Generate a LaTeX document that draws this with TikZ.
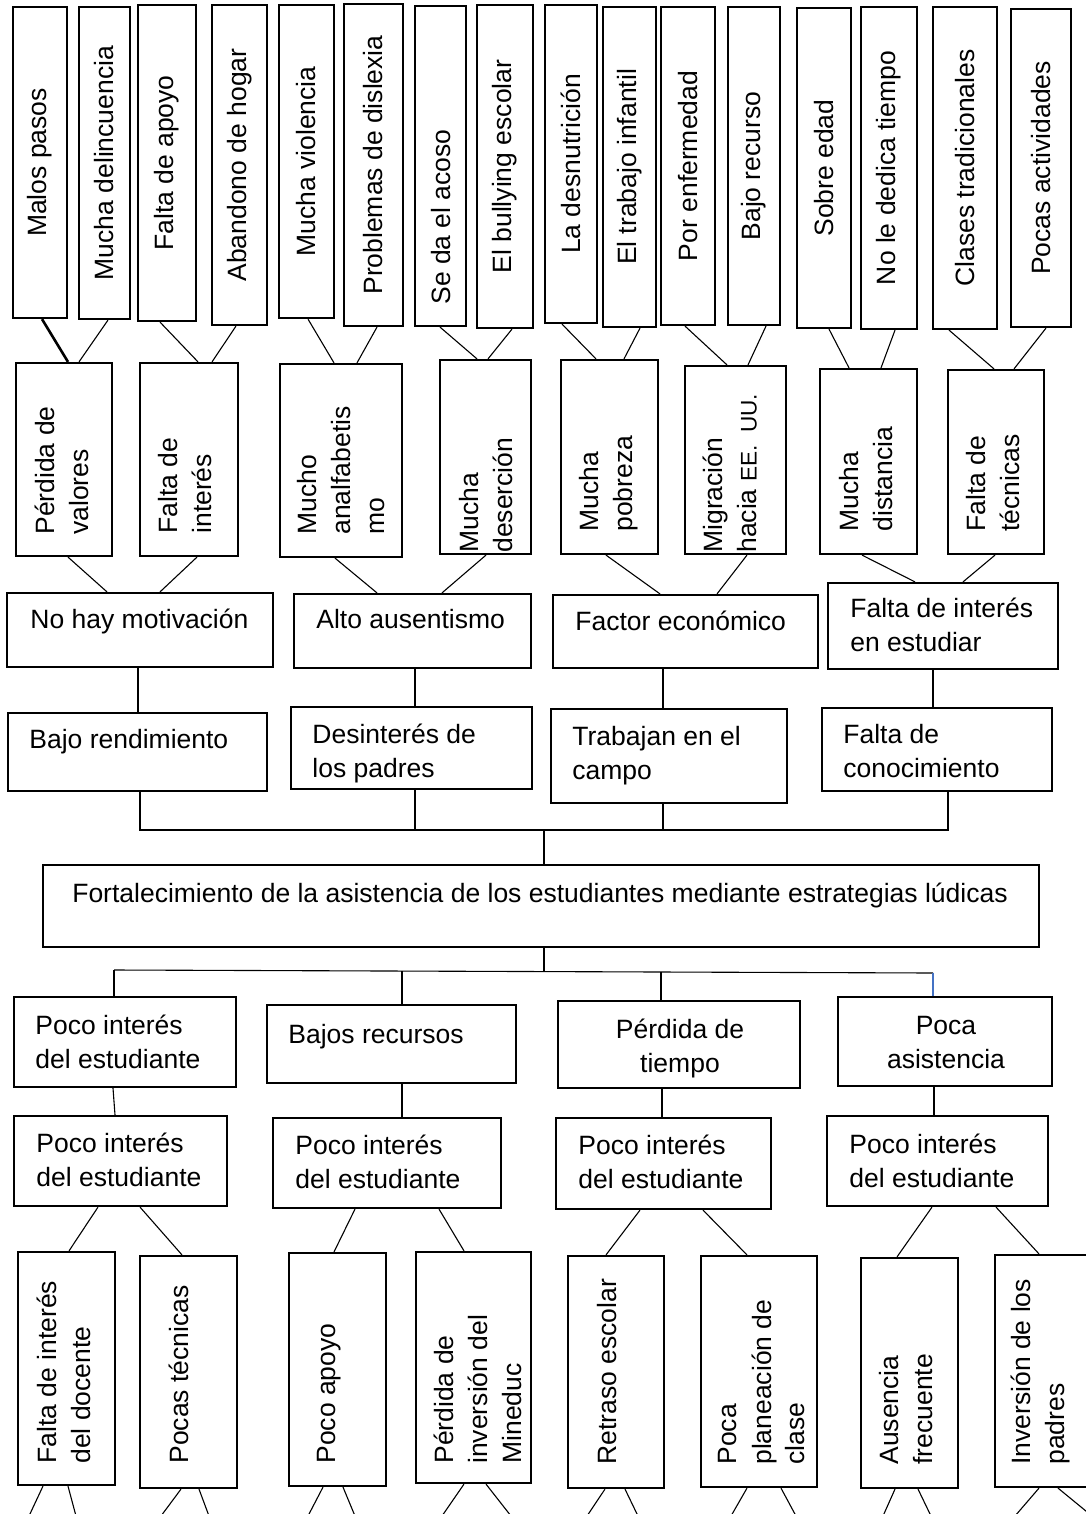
\documentclass[tikz,border=0pt]{standalone}
\usepackage{fontspec}
\setmainfont{Liberation Sans}
\usetikzlibrary{fit}
\definecolor{linkblue}{RGB}{68,114,196}
\begin{document}
\begin{tikzpicture}[x=0.5pt,y=-0.5pt,
  box/.style={draw, line width=1.1pt, inner sep=0pt, rectangle},
  con/.style={line width=0.55pt},
  rt/.style={rotate=90, inner sep=0pt, font=\fontsize{13.25}{17}\selectfont},
  rtl/.style={rt, align=left, anchor=west},
  ht/.style={inner sep=0pt, anchor=base west, font=\fontsize{13.25}{17}\selectfont},
  hc/.style={inner sep=0pt, anchor=base, align=center, font=\fontsize{13.25}{17}\selectfont}]
\useasboundingbox (0,0) rectangle (1086,1514);
\fill[white] (0,0) rectangle (1086,1514);
\clip (0,0) rectangle (1086,1514);

% ---------- top row ----------
\node[box, fit={(13,7) (67,318)}] (T1) {};
\node[rt] at (T1) {Malos pasos};
\node[box, fit={(79,7) (130,319)}] (T2) {};
\node[rt] at (T2) {Mucha delincuencia};
\node[box, fit={(138,5) (196,321)}] (T3) {};
\node[rt] at (T3) {Falta de apoyo};
\node[box, fit={(212,5) (267,325)}] (T4) {};
\node[rt] at (T4) {Abandono de hogar};
\node[box, fit={(279,5) (334,318)}] (T5) {};
\node[rt] at (T5) {Mucha violencia};
\node[box, fit={(344,4) (403,326)}] (T6) {};
\node[rt] at (T6) {Problemas de dislexia};
\node[box, fit={(415,6) (466,326)}] (T7) {};
\node[rt, anchor=west] at (441,305) {Se da el acoso};
\node[box, fit={(477,5) (533,328)}] (T8) {};
\node[rt] at (T8) {El bullying escolar};
\node[box, fit={(545,5) (597,323)}] (T9) {};
\node[rt] at (T9) {La desnutrición};
\node[box, fit={(603,7) (656,327)}] (T10) {};
\node[rt] at (T10) {El trabajo infantil};
\node[box, fit={(661,7) (715,325)}] (T11) {};
\node[rt] at (T11) {Por enfermedad};
\node[box, fit={(728,7) (780,325)}] (T12) {};
\node[rt] at (T12) {Bajo recurso};
\node[box, fit={(797,8) (851,328)}] (T13) {};
\node[rt] at (T13) {Sobre edad};
\node[box, fit={(861,7) (917,329)}] (T14) {};
\node[rt] at (T14) {No le dedica tiempo};
\node[box, fit={(933,7) (997,329)}] (T15) {};
\node[rt] at (T15) {Clases tradicionales};
\node[box, fit={(1011,9) (1071,327)}] (T16) {};
\node[rt] at (T16) {Pocas actividades};

% ---------- second row ----------
\node[box, fit={(16,363) (112,556)}] (S1) {};
\node[rtl] at (62,535) {Pérdida de\\valores};
\node[box, fit={(140,363) (238,556)}] (S2) {};
\node[rtl] at (185,534) {Falta de\\interés};
\node[box, fit={(280,364) (402,557)}] (S3) {};
\node[rtl] at (341,535) {Mucho\\analfabetis\\mo};
\node[box, fit={(440,360) (531,554)}] (S4) {};
\node[rtl] at (486,553) {Mucha\\deserción};
\node[box, fit={(561,360) (658,554)}] (S5) {};
\node[rtl] at (609,532) {Mucha\\pobreza};
\node[box, fit={(685,366) (786,554)}] (S6) {};
\node[rtl] at (730,553) {Migración\\hacia {\fontsize{11.3}{17}\selectfont EE.\ \ UU.}};
\node[box, fit={(820,369) (917,554)}] (S7) {};
\node[rtl] at (866,532) {Mucha\\distancia};
\node[box, fit={(948,370) (1044,554)}] (S8) {};
\node[rtl] at (993,532) {Falta de\\técnicas};

% ---------- third row ----------
\node[box, fit={(7,593) (273,667)}] (R1) {};
\node[ht] at (30,628) {No hay motivación};
\node[box, fit={(294,594) (531,668)}] (R2) {};
\node[ht] at (316,628) {Alto ausentismo};
\node[box, fit={(553,595) (818,668)}] (R3) {};
\node[ht] at (575,630) {Factor económico};
\node[box, fit={(828,583) (1058,669)}] (R4) {};
\node[ht, align=left] at (850,651) {Falta de interés\\en estudiar};

% ---------- fourth row ----------
\node[box, fit={(8,713) (267,791)}] (Q1) {};
\node[ht] at (29,748) {Bajo rendimiento};
\node[box, fit={(291,707) (532,789)}] (Q2) {};
\node[ht, align=left] at (312,777) {Desinterés de\\los padres};
\node[box, fit={(551,709) (787,803)}] (Q3) {};
\node[ht, align=left] at (572,779) {Trabajan en el\\campo};
\node[box, fit={(822,708) (1052,791)}] (Q4) {};
\node[ht, align=left] at (843,777) {Falta de\\conocimiento};

% ---------- main box ----------
\node[box, fit={(43,865) (1039,947)}] (M) {};
\node[hc] at (540,902) {Fortalecimiento de la asistencia de los estudiantes mediante estrategias lúdicas};

% ---------- effects ----------
\node[box, fit={(14,997) (236,1087)}] (P1) {};
\node[ht, align=left] at (35,1068) {Poco interés\\del estudiante};
\node[box, fit={(267,1005) (516,1083)}] (P2) {};
\node[ht] at (288,1043) {Bajos recursos};
\node[box, fit={(558,1001) (800,1088)}] (P3) {};
\node[hc] at (680,1072) {Pérdida de\\tiempo};
\node[box, fit={(838,997) (1052,1086)}] (P4) {};
\node[hc] at (946,1068) {Poca\\asistencia};

\node[box, fit={(14,1116) (227,1206)}] (U1) {};
\node[ht, align=left] at (36,1186) {Poco interés\\del estudiante};
\node[box, fit={(273,1118) (501,1208)}] (U2) {};
\node[ht, align=left] at (295,1188) {Poco interés\\del estudiante};
\node[box, fit={(556,1118) (771,1209)}] (U3) {};
\node[ht, align=left] at (578,1188) {Poco interés\\del estudiante};
\node[box, fit={(827,1116) (1048,1206)}] (U4) {};
\node[ht, align=left] at (849,1187) {Poco interés\\del estudiante};

% ---------- bottom row ----------
\node[box, fit={(18,1252) (115,1485)}] (B1) {};
\node[rtl] at (64,1464) {Falta de interés\\del docente};
\node[box, fit={(140,1256) (237,1488)}] (B2) {};
\node[rtl] at (179,1464) {Pocas técnicas};
\node[box, fit={(289,1253) (386,1486)}] (B3) {};
\node[rtl] at (329,1464) {Poco apoyo};
\node[box, fit={(416,1252) (531,1483)}] (B4) {};
\node[rtl] at (478,1464) {Pérdida de\\inversión del\\Mineduc};
\node[box, fit={(568,1256) (664,1488)}] (B5) {};
\node[rtl] at (607,1465) {Retraso escolar};
\node[box, fit={(701,1256) (817,1487)}] (B6) {};
\node[rtl] at (762,1465) {Poca\\planeación de\\clase};
\node[box, fit={(861,1258) (958,1488)}] (B7) {};
\node[rtl] at (906,1465) {Ausencia\\frecuente};
\node[box, fit={(995,1255) (1110,1487)}] (B8) {};
\node[rtl] at (1040,1465) {Inversión de los\\padres};

% ---------- connectors: top -> second ----------
\draw[con, line width=1.3pt] (T1.south -| 42,0) -- (S1.north -| 68,0);
\draw[con] (T2.south -| 108,0) -- (S1.north -| 79,0);
\draw[con] (T3.south -| 160,0) -- (S2.north -| 198,0);
\draw[con] (T4.south -| 236,0) -- (S2.north -| 212,0);
\draw[con] (T5.south -| 308,0) -- (S3.north -| 334,0);
\draw[con] (T6.south -| 377,0) -- (S3.north -| 357,0);
\draw[con] (T7.south -| 440,0) -- (S4.north -| 477,0);
\draw[con] (T8.south -| 512,0) -- (S4.north -| 488,0);
\draw[con] (T9.south -| 562,0) -- (S5.north -| 596,0);
\draw[con] (T10.south -| 640,0) -- (S5.north -| 624,0);
\draw[con] (T11.south -| 685,0) -- (S6.north -| 727,0);
\draw[con] (T12.south -| 766,0) -- (S6.north -| 748,0);
\draw[con] (T13.south -| 829,0) -- (S7.north -| 849,0);
\draw[con] (T14.south -| 895,0) -- (S7.north -| 881,0);
\draw[con] (T15.south -| 949,0) -- (S8.north -| 994,0);
\draw[con] (T16.south -| 1046,0) -- (S8.north -| 1014,0);

% ---------- second -> third ----------
\draw[con] (S1.south -| 68,0) -- (R1.north -| 107,0);
\draw[con] (S2.south -| 197,0) -- (R1.north -| 160,0);
\draw[con] (S3.south -| 335,0) -- (R2.north -| 377,0);
\draw[con] (S4.south -| 486,0) -- (R2.north -| 442,0);
\draw[con] (S5.south -| 606,0) -- (R3.north -| 660,0);
\draw[con] (S6.south -| 747,0) -- (R3.north -| 717,0);
\draw[con] (S7.south -| 862,0) -- (R4.north -| 915,0);
\draw[con] (S8.south -| 995,0) -- (R4.north -| 963,0);

% ---------- third -> fourth ----------
\draw[con] (R1.south -| 138,0) -- (Q1.north -| 138,0);
\draw[con] (R2.south -| 415,0) -- (Q2.north -| 415,0);
\draw[con] (R3.south -| 663,0) -- (Q3.north -| 663,0);
\draw[con] (R4.south -| 933,0) -- (Q4.north -| 933,0);

% ---------- bracket to main box ----------
\coordinate (hb1) at (140,830);
\coordinate (hb4) at (948,830);
\coordinate (jn) at (544,830);
\draw[con] (Q1.south -| hb1) -- (hb1) -- (hb4) -- (Q4.south -| hb4);
\draw[con] (Q2.south -| 415,0) -- (415,830);
\draw[con] (Q3.south -| 663,0) -- (663,830);
\draw[con] (jn) -- (M.north -| jn);

% ---------- main box to effects ----------
\coordinate (ja) at (544,972);
\coordinate (hl) at (114,970);
\coordinate (hr) at (933,973);
\draw[con] (M.south -| ja) -- (ja);
\draw[con] (hl) -- (hr);
\draw[con] (hl) -- (P1.north -| hl);
\draw[con] (402,971) -- (P2.north -| 402,0);
\draw[con] (661,972) -- (P3.north -| 661,0);
\draw[con, linkblue] (hr) -- (P4.north -| hr);

% ---------- effects -> second effects ----------
\draw[con] (P1.south -| 113,0) -- (U1.north -| 115,0);
\draw[con] (P2.south -| 402,0) -- (U2.north -| 402,0);
\draw[con] (P3.south -| 662,0) -- (U3.north -| 662,0);
\draw[con] (P4.south -| 934,0) -- (U4.north -| 934,0);

% ---------- second effects -> bottom ----------
\draw[con] (U1.south -| 98,0) -- (B1.north -| 69,0);
\draw[con] (U1.south -| 140,0) -- (B2.north -| 182,0);
\draw[con] (U2.south -| 355,0) -- (B3.north -| 334,0);
\draw[con] (U2.south -| 439,0) -- (B4.north -| 464,0);
\draw[con] (U3.south -| 640,0) -- (B5.north -| 606,0);
\draw[con] (U3.south -| 703,0) -- (B6.north -| 747,0);
\draw[con] (U4.south -| 932,0) -- (B7.north -| 897,0);
\draw[con] (U4.south -| 996,0) -- (B8.north -| 1039,0);

% ---------- dangling lines at the bottom ----------
\foreach \n/\a/\b/\c/\d in {B1/43/29/68/76, B2/181/161/199/209, B3/323/308/343/355,
  B4/464/442/486/511, B5/605/587/625/638, B6/747/731/781/796,
  B7/895/883/918/931, B8/1039/1015/1058/1092}{
  \coordinate (d1\n) at (\b,1516);
  \coordinate (d2\n) at (\d,1516);
  \draw[con] (\n.south -| \a,0) -- (d1\n);
  \draw[con] (\n.south -| \c,0) -- (d2\n);
}
\end{tikzpicture}
\end{document}
